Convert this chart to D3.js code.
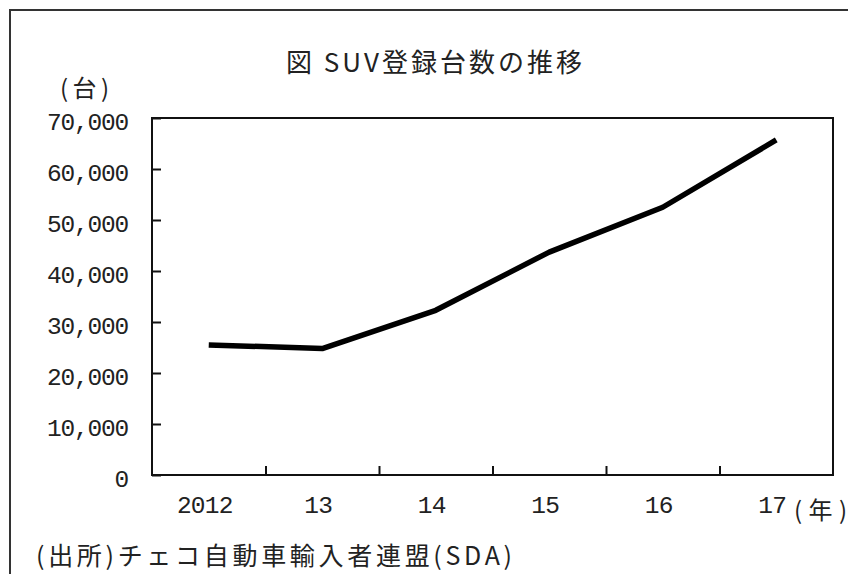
<!DOCTYPE html>
<html>
<head>
<meta charset="utf-8">
<script src="https://cdn.jsdelivr.net/npm/d3@7"></script>
<style>
  html, body { margin: 0; padding: 0; background: #fff; }
  svg { display: block; }
</style>
</head>
<body>
<svg id="chart" width="848" height="574"></svg>
<script>
// SUV registrations in the Czech Republic, by year
const years = ["2012", "13", "14", "15", "16", "17"];
const registrations = [25500, 24800, 32300, 43700, 52500, 65700];
const yTicks = [0, 10000, 20000, 30000, 40000, 50000, 60000, 70000];

const titleText = "図 SUV登録台数の推移";
const unitText = "(台)";
const yearUnitText = "(年)";
const sourceText = "(出所)チェコ自動車輸入者連盟(SDA)";

const svg = d3.select("#chart");
const W = 848, H = 574;
const plot = { left: 152, right: 833, top: 118, bottom: 475 };
const ink = "#222";
const cjk = "'Noto Sans CJK JP', sans-serif";
const mono = "'Liberation Mono', 'DejaVu Sans Mono', monospace";

// outer frame (runs off the right and bottom edges)
svg.append("rect")
  .attr("x", 10).attr("y", 10)
  .attr("width", W + 20).attr("height", H + 20)
  .attr("fill", "none").attr("stroke", "#333").attr("stroke-width", 2);

const x = d3.scaleBand().domain(years).range([plot.left, plot.right]);
const xEdge = d3.scaleLinear().domain([0, years.length]).range([plot.left, plot.right]);
const y = d3.scaleLinear().domain([0, 70000]).range([plot.bottom, plot.top]);

// y axis: inward ticks, labels on the left
const yAxis = svg.append("g")
  .attr("transform", `translate(${plot.left},0)`)
  .call(d3.axisLeft(y).tickValues(yTicks).tickSize(-9).tickPadding(24)
    .tickFormat(d3.format(",")));
yAxis.select(".domain").remove();
yAxis.selectAll("line").attr("stroke", "#111").attr("stroke-width", 2);
yAxis.selectAll("text")
  .attr("dy", "0.45em")
  .style("font-family", mono).style("font-size", "24.5px")
  .style("letter-spacing", "-1.2px").attr("fill", ink);

// x axis: ticks on category boundaries, labels centred in each band
const xTickAxis = svg.append("g")
  .attr("transform", `translate(0,${plot.bottom})`)
  .call(d3.axisBottom(xEdge).tickValues(d3.range(1, years.length)).tickSize(-9).tickFormat(""));
xTickAxis.select(".domain").remove();
xTickAxis.selectAll("line").attr("stroke", "#111").attr("stroke-width", 2);

const xAxis = svg.append("g")
  .attr("transform", `translate(-4,${plot.bottom})`)
  .call(d3.axisBottom(x).tickSize(0).tickPadding(21));
xAxis.select(".domain").remove();
xAxis.selectAll("text")
  .attr("dy", "0.71em")
  .style("font-family", mono).style("font-size", "24.5px")
  .style("letter-spacing", "-0.8px").attr("fill", ink);

// plot frame
svg.append("rect")
  .attr("x", plot.left).attr("y", plot.top)
  .attr("width", plot.right - plot.left).attr("height", plot.bottom - plot.top)
  .attr("fill", "none").attr("stroke", "#111").attr("stroke-width", 2);

// data line
const line = d3.line()
  .x((d, i) => x(years[i]) + x.bandwidth() / 2)
  .y(d => y(d));
svg.append("path")
  .datum(registrations)
  .attr("d", line)
  .attr("fill", "none")
  .attr("stroke", "#000")
  .attr("stroke-width", 5.5)
  .attr("stroke-linejoin", "round");

// texts
svg.append("text")
  .attr("x", 286).attr("y", 60)
  .attr("dominant-baseline", "central")
  .attr("textLength", 296).attr("lengthAdjust", "spacing")
  .style("font-family", cjk).style("font-size", "26px").attr("fill", ink)
  .text(titleText);

svg.append("text")
  .attr("x", 60).attr("y", 86)
  .attr("dominant-baseline", "central")
  .attr("textLength", 49).attr("lengthAdjust", "spacing")
  .style("font-family", cjk).style("font-size", "24px").attr("fill", ink)
  .text(unitText);

svg.append("text")
  .attr("x", 794).attr("y", 508)
  .attr("dominant-baseline", "central")
  .attr("textLength", 53).attr("lengthAdjust", "spacing")
  .style("font-family", cjk).style("font-size", "24px").attr("fill", ink)
  .text(yearUnitText);

svg.append("text")
  .attr("x", 36).attr("y", 554)
  .attr("dominant-baseline", "central")
  .attr("textLength", 476).attr("lengthAdjust", "spacing")
  .style("font-family", cjk).style("font-size", "25px").attr("fill", ink)
  .text(sourceText);
</script>
</body>
</html>
